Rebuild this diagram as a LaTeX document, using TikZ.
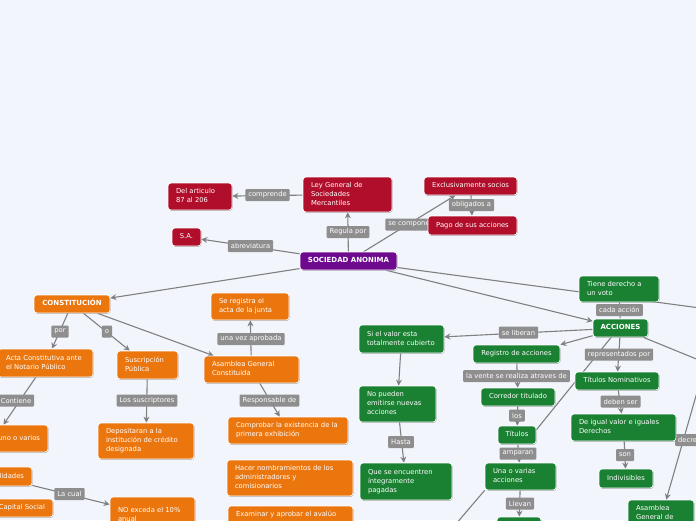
\documentclass[tikz,border=0pt]{standalone}
\usepackage{fontspec}
\setmainfont{DejaVu Sans}
\usetikzlibrary{arrows.meta,shadows,calc}
\definecolor{bgc}{RGB}{243,245,253}
\definecolor{cred}{RGB}{176,14,42}
\definecolor{cpur}{RGB}{110,10,142}
\definecolor{cora}{RGB}{236,118,14}
\definecolor{cgrn}{RGB}{26,128,50}
\definecolor{cedge}{RGB}{128,128,128}
\definecolor{clbl}{RGB}{142,142,142}
\pgfdeclarelayer{back}\pgfdeclarelayer{edges}\pgfdeclarelayer{labels}
\pgfsetlayers{back,edges,labels,main}
\newcommand\fs{\fontsize{6.8}{9}\selectfont}
\newcommand\fsb{\fontsize{7}{9}\selectfont\bfseries}
\newcommand\mynode[8]{%
 \node[#2, minimum width={(#6)*1pt-(#4)*1pt}, minimum height={(#7)*1pt-(#5)*1pt}] (#1) at ({(#4+#6)/2},{(#5+#7)/2}) {\makebox[\dimexpr #6pt-#4pt-16pt\relax][#3]{\begin{tabular}{@{}#3@{}}#8\end{tabular}}};}
\tikzset{
 box/.style={rounded corners=3pt, draw=white, line width=0.7pt, text=white, inner sep=0pt, font=\fs,
   drop shadow={shadow xshift=0.5pt, shadow yshift=-0.8pt, opacity=0.3, fill=black}},
 rbox/.style={box, fill=cred},
 pbox/.style={box, fill=cpur, font=\fsb},
 obox/.style={box, fill=cora},
 obbox/.style={box, fill=cora, font=\fsb},
 gbox/.style={box, fill=cgrn},
 gbbox/.style={box, fill=cgrn, font=\fsb},
 lbl/.style={fill=clbl, text=white, font=\fs, inner xsep=3pt, inner ysep=0pt, minimum height=12pt, rounded corners=1pt},
 arr/.style={draw=cedge, line width=1.1pt, -{Stealth[length=6pt,width=6pt,inset=2pt]}},
 ln/.style={draw=cedge, line width=1.1pt}
}
\begin{document}
\begin{tikzpicture}[x=1pt,y=-1pt]
\useasboundingbox (0,0) rectangle (696,520);
\begin{pgfonlayer}{back}
\fill[bgc] (0,0) rectangle (696,520);
\end{pgfonlayer}
% red
\mynode{del}{rbox}{l}{168}{183}{232}{210}{Del articulo\\87 al 206}
\mynode{ley}{rbox}{l}{303}{177}{392}{212}{Ley General de\\Sociedades\\Mercantiles}
\mynode{sa}{rbox}{c}{172}{228}{201}{246}{S.A.}
\mynode{excl}{rbox}{c}{424}{177}{517}{195}{Exclusivamente socios}
\mynode{pago}{rbox}{c}{428}{216}{517}{235}{Pago de sus acciones}
% purple
\mynode{soc}{pbox}{c}{300}{252}{397}{270}{SOCIEDAD ANONIMA}
% orange
\mynode{const}{obbox}{c}{34}{295}{110}{313}{CONSTITUCIÓN}
\mynode{acta}{obox}{l}{-2}{349}{93}{377}{Acta Constitutiva ante\\el Notario Público}
\mynode{susc}{obox}{l}{117}{351}{178}{379}{Suscripción\\Pública}
\mynode{asam}{obox}{l}{204}{356}{299}{383}{Asamblea General\\Constituida}
\mynode{sereg}{obox}{l}{211}{293}{289}{320}{Se registra el\\acta de la junta}
\mynode{depo}{obox}{l}{98}{423}{194}{459}{Depositaran a la\\institución de crédito\\designada}
\mynode{uno}{obox}{r}{-60}{425}{48}{452}{uno o varios}
\mynode{lid}{obox}{r}{-40}{467}{32}{486}{Utilidades}
\mynode{cap}{obox}{r}{-40}{499}{53}{517}{Capital Social}
\mynode{noex}{obox}{l}{110}{497}{195}{533}{NO exceda el 10\%\\anual}
\mynode{comp}{obox}{l}{228}{417}{348}{444}{Comprobar la existencia de la\\primera exhibición}
\mynode{hacer}{obox}{l}{227}{460}{353}{496}{Hacer nombramientos de los\\administradores y\\comisionarios}
\mynode{exam}{obox}{l}{228}{506}{353}{533}{Examinar y aprobar el avalúo\\\mbox{}}
% green
\mynode{tiene}{gbox}{l}{579}{276}{659}{302}{Tiene derecho a\\un voto}
\mynode{acc}{gbbox}{c}{593}{319}{648}{337}{ACCIONES}
\mynode{siv}{gbox}{l}{359}{325}{444}{353}{Si el valor esta\\totalmente cubierto}
\mynode{nop}{gbox}{l}{359}{386}{436}{422}{No pueden\\emitirse nuevas\\acciones}
\mynode{que}{gbox}{l}{360}{463}{452}{500}{Que se encuentren\\íntegramente\\pagadas}
\mynode{reg}{gbox}{c}{473}{345}{560}{363}{Registro de acciones}
\mynode{cor}{gbox}{c}{481}{388}{555}{406}{Corredor titulado}
\mynode{tit}{gbox}{c}{498}{426}{536}{444}{Títulos}
\mynode{una}{gbox}{l}{485}{463}{556}{490}{Una o varias\\acciones}
\mynode{bot}{gbox}{c}{497}{517}{541}{535}{\mbox{}}
\mynode{tnom}{gbox}{c}{575}{372}{659}{390}{Títulos Nominativos}
\mynode{deig}{gbox}{l}{571}{414}{676}{441}{De igual valor e iguales\\Derechos}
\mynode{indiv}{gbox}{c}{599}{469}{653}{488}{Indivisibles}
\mynode{asgen}{gbox}{l}{628}{500}{694}{536}{Asamblea\\General de\\\mbox{}}
\begin{pgfonlayer}{edges}
\draw[arr] (ley) -- (del);
\draw[arr] (soc) -- (ley);
\draw[arr] (soc) -- (sa);
\draw[arr] (soc) -- (excl);
\draw[arr] (excl) -- (pago);
\draw[arr] (soc) -- (const);
\draw[arr] (const) -- (acta);
\draw[arr] (const) -- (susc);
\draw[arr] (const) -- (asam);
\draw[arr] (asam) -- (sereg);
\draw[arr] (susc) -- (depo);
\draw[arr] (acta) -- (uno);
\draw[arr] (lid) -- (noex);
\draw[arr] (asam) -- (comp);
\coordinate (offR1) at (760,316);
\draw[ln] (soc) -- (offR1);
\draw[arr] (soc) -- (acc);
\draw[ln] (acc) -- (tiene);
\coordinate (offR2) at (760,385);
\draw[ln] (acc) -- (offR2);
\draw[arr] (acc) -- (siv);
\draw[arr] (acc) -- (reg.north east);
\draw[arr] (siv) -- (nop);
\draw[arr] (nop) -- (que);
\draw[arr] (reg) -- (cor);
\draw[arr] (cor) -- (tit);
\draw[ln] (acc.225) -- (tit.15);
\draw[arr] (tit) -- (una);
\draw[arr] (una) -- (bot);
\coordinate (offB) at (438,545);
\draw[ln] (una.south west) -- (offB);
\draw[arr] (acc) -- (tnom);
\draw[arr] (tnom) -- (deig);
\draw[arr] (deig) -- (indiv);
\coordinate (offTR) at (712,340);
\draw[arr] (offTR) -- (asgen);
\end{pgfonlayer}
\begin{pgfonlayer}{labels}
\node[lbl] (l1) at (267.5,195) {comprende};
\node[lbl] (l2) at (348,232) {Regula por};
\node[lbl] (l3) at (250.5,246) {abreviatura};
\node[lbl] (l4) at (409,224.5) {se compone};
\node[lbl] (l5) at (471.5,205) {obligados a};
\node[lbl] (l6) at (60,331.5) {por};
\node[lbl] (l7) at (107,331.5) {o};
\node[lbl] (l8) at (251,339) {una vez aprobada};
\node[lbl] (l9) at (147,400.5) {Los suscriptores};
\node[lbl] (l10) at (16,400.5) {Contiene};
\node[lbl] (l11) at (69.5,494) {La cual};
\node[lbl] (l12) at (269.5,400.5) {Responsable de};
\node[lbl] (l13) at (619.5,310) {cada acción};
\node[lbl] (l14) at (518.5,332.5) {se liberan};
\node[lbl] (l15) at (401,442) {Hasta};
\node[lbl] (l16) at (516.5,376) {la vente se realiza atraves de};
\node[lbl] (l17) at (517,415.5) {los};
\node[lbl] (l18) at (518,453.5) {amparan};
\node[lbl] (l19) at (520,503.5) {Llevan};
\node[lbl] (l20) at (619,354.5) {representados por};
\node[lbl] (l21) at (620.5,401.5) {deben ser};
\node[lbl] (l22) at (625,455) {son};
\node[lbl] (l23) at (691,440) {decreta};
\end{pgfonlayer}
\end{tikzpicture}
\end{document}
